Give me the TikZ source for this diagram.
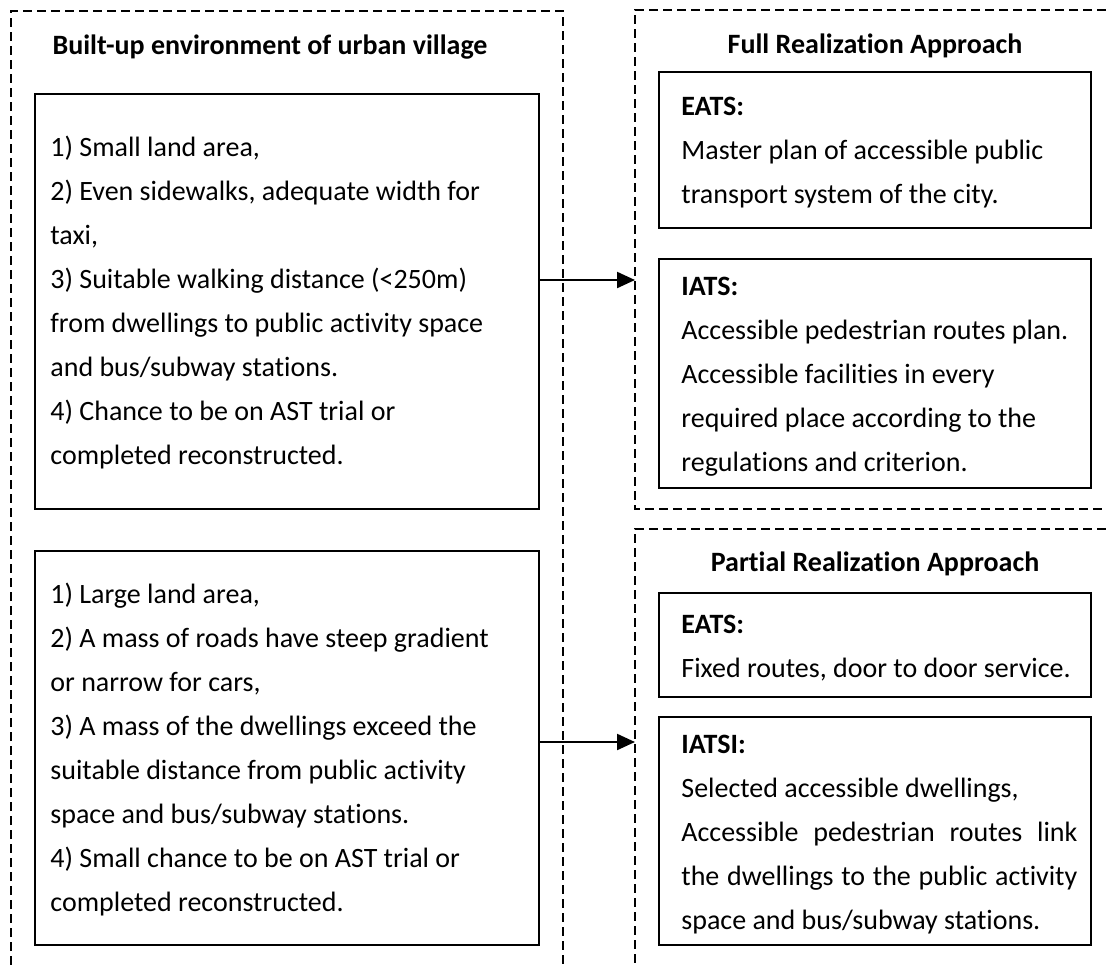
\documentclass[tikz,border=0pt]{standalone}
\usepackage{fontspec}
\setmainfont{Carlito}[Ligatures=NoCommon]
\usetikzlibrary{arrows.meta}
\begin{document}
\begin{tikzpicture}[x=0.5bp,y=-0.5bp,
  frame/.style={draw, dash pattern=on 4.5bp off 2.5bp, line width=0.8bp},
  box/.style={draw, line width=1bp, rectangle, inner sep=0pt},
  txt/.style={font=\fontsize{14bp}{22bp}\selectfont, inner sep=0pt, anchor=base west},
  ttl/.style={font=\fontsize{14bp}{22bp}\selectfont\bfseries, inner sep=0pt, anchor=base},
  arr/.style={-{Triangle[length=9bp,width=8bp]}, line width=1.1bp}]
\useasboundingbox (0,0) rectangle (1106,965);

% dashed frames
\draw[frame] (11,965) -- (11,11) -- (563,11) -- (563,965);
\draw[frame] (1106,10) -- (635,10) -- (635,509) -- (1106,509);
\draw[frame] (1106,529) -- (635,529) -- (635,965);

% titles
\node[ttl] (t1) at (270,54) {Built-up environment of urban village};
\node[ttl] (t2) at (875,53) {Full Realization Approach};
\node[ttl] (t3) at (875,571) {Partial Realization Approach};

% boxes
\node[box, minimum width=252bp, minimum height=207.5bp] (b1) at (287,301.5) {};
\node[box, minimum width=252bp, minimum height=197bp] (b2) at (287,748) {};
\node[box, minimum width=216bp, minimum height=78bp] (r1) at (875,150) {};
\node[box, minimum width=216bp, minimum height=114.5bp] (r2) at (875,373.5) {};
\node[box, minimum width=216bp, minimum height=52bp] (r3) at (875,645) {};
\node[box, minimum width=216bp, minimum height=114bp] (r4) at (875,831) {};

% texts
\node[txt] (x1) at (50,156) {\parbox[t]{250bp}{\raggedright
1) Small land area,\\
2) Even sidewalks, adequate width for\\
taxi,\\
3) Suitable walking distance (<250m)\\
from dwellings to public activity space\\
and bus/subway stations.\\
4) Chance to be on AST trial or\\
completed reconstructed.}};

\node[txt] (x2) at (50,603) {\parbox[t]{250bp}{\raggedright
1) Large land area,\\
2) A mass of roads have steep gradient\\
or narrow for cars,\\
3) A mass of the dwellings exceed the\\
suitable distance from public activity\\
space and bus/subway stations.\\
4) Small chance to be on AST trial or\\
completed reconstructed.}};

\node[txt] (x3) at (681,115) {\parbox[t]{210bp}{\raggedright
\textbf{EATS:}\\
Master plan of accessible public\\
transport system of the city.}};

\node[txt] (x4) at (681,295) {\parbox[t]{210bp}{\raggedright
\textbf{IATS:}\\
Accessible pedestrian routes plan.\\
Accessible facilities in every\\
required place according to the\\
regulations and criterion.}};

\node[txt] (x5) at (681,633) {\parbox[t]{210bp}{\raggedright
\textbf{EATS:}\\
Fixed routes, door to door service.}};

\node[txt] (x6) at (681,753) {\parbox[t]{198bp}{%
\textbf{IATSI:}\\
Selected accessible dwellings,\\
Accessible pedestrian routes link\linebreak
the dwellings to the public activity\linebreak
space and bus/subway stations.}};

% arrows
\coordinate (a1) at (635,280);
\coordinate (a2) at (635,742);
\draw[arr] (b1.east |- a1) -- (a1);
\draw[arr] (b2.east |- a2) -- (a2);
\end{tikzpicture}
\end{document}
